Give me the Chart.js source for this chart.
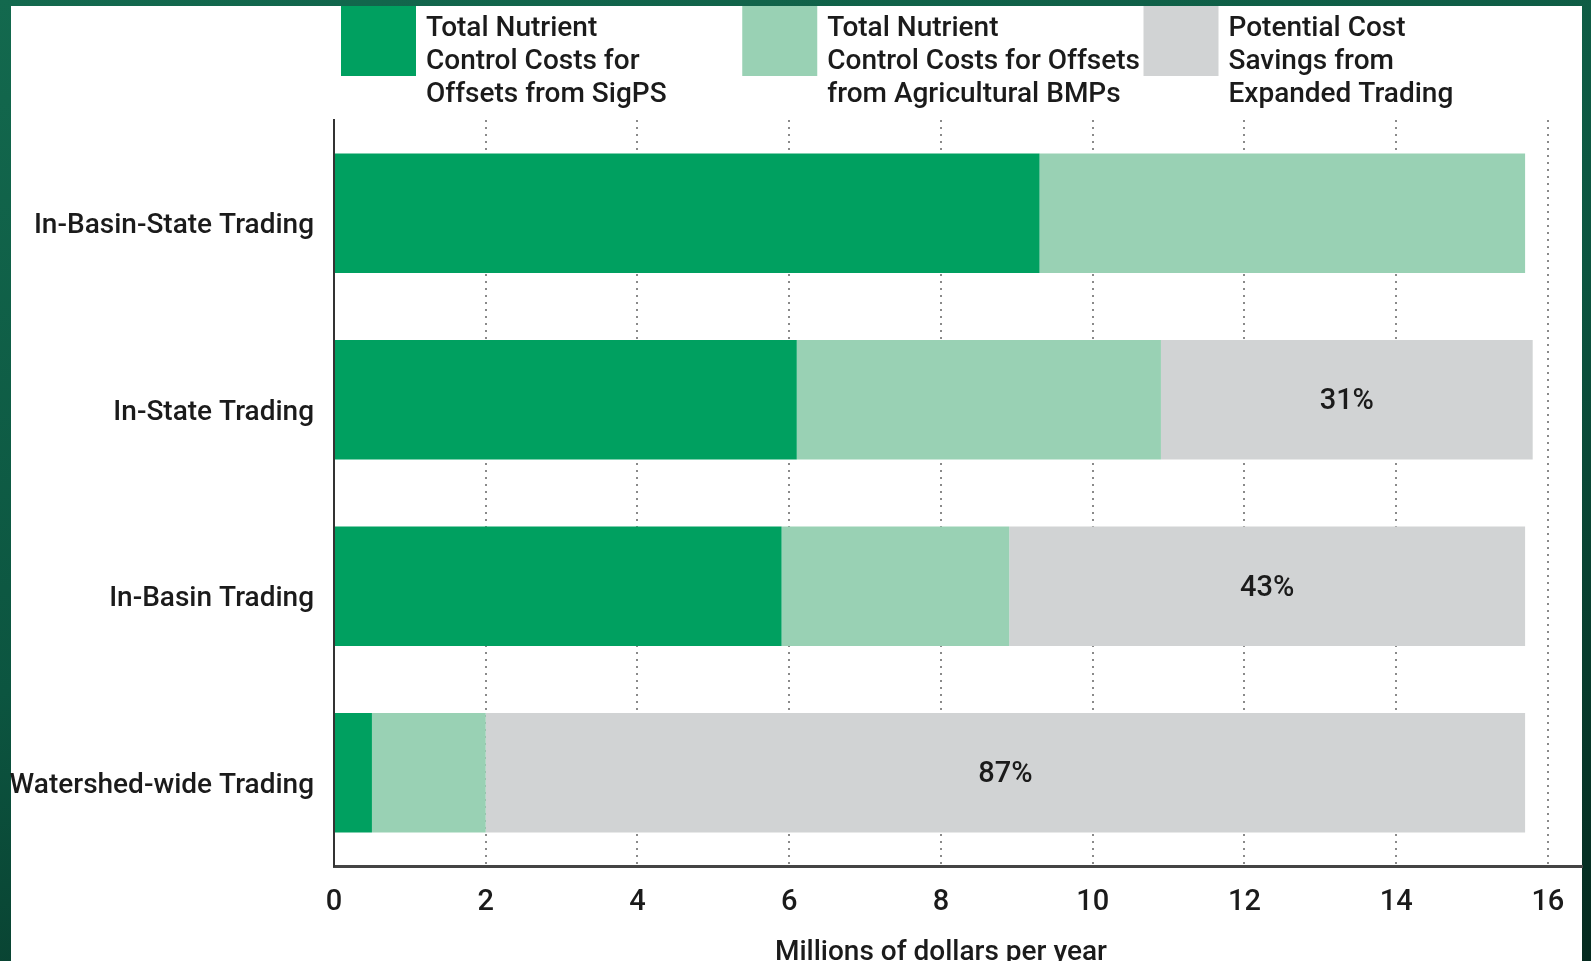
<!DOCTYPE html>
<html>
<head>
<meta charset="utf-8">
<script src="https://cdn.jsdelivr.net/npm/chart.js@4.4.1/dist/chart.umd.min.js"></script>
<style>
  html, body { margin: 0; padding: 0; width: 1591px; height: 961px; overflow: hidden; }
  body { position: relative; background: linear-gradient(165deg, #13694e 0%, #0c5540 50%, #052a1f 100%); }
  #panel { position: absolute; left: 11px; top: 6px; width: 1571px; height: 955px; background: #fff; }
  #chart { position: absolute; left: 0; top: 0; }
</style>
</head>
<body>
<div id="panel"></div>
<canvas id="chart" width="1591" height="990"></canvas>
<script>
var categories = ['In-Basin-State Trading', 'In-State Trading', 'In-Basin Trading', 'Watershed-wide Trading'];
var sigpsCosts = [9.3, 6.1, 5.9, 0.5];
var agBmpCosts = [6.4, 4.8, 3.0, 1.5];
var tradingSavings = [0, 4.9, 6.8, 13.7];
var savingsLabels = ['', '31%', '43%', '87%'];
var seriesNames = [
    ['Total Nutrient', 'Control Costs for', 'Offsets from SigPS'],
    ['Total Nutrient', 'Control Costs for Offsets', 'from Agricultural BMPs'],
    ['Potential Cost', 'Savings from', 'Expanded Trading']
];
var xTicks = [0, 2, 4, 6, 8, 10, 12, 14, 16];
var xTitle = 'Millions of dollars per year';

var FONT = 'Roboto, "Noto Sans", sans-serif';
var INK = '#1b1b1b';

// legend drawn by hand: three swatches with wrapped text
var legendPlugin = {
    id: 'stackLegend',
    afterDraw: function (chart) {
        var ctx = chart.ctx;
        ctx.save();
        ctx.font = '500 28px ' + FONT;
        ctx.textAlign = 'left';
        ctx.textBaseline = 'alphabetic';
        chart.data.datasets.forEach(function (ds, i) {
            var x = 341 + i * 401.25;
            ctx.fillStyle = ds.backgroundColor;
            ctx.fillRect(x, 6, 75, 70);
            ctx.fillStyle = INK;
            seriesNames[i].forEach(function (line, j) {
                ctx.fillText(line, x + 85, 36 + j * 33);
            });
        });
        ctx.restore();
    }
};

// axis title centred under the 0..16 tick range, not the whole axis
var xTitlePlugin = {
    id: 'xTitle',
    afterDraw: function (chart) {
        var ctx = chart.ctx;
        var xs = chart.scales.x;
        var mid = xs.getPixelForValue((xTicks[0] + xTicks[xTicks.length - 1]) / 2);
        ctx.save();
        ctx.font = '500 28px ' + FONT;
        ctx.fillStyle = INK;
        ctx.textAlign = 'center';
        ctx.textBaseline = 'middle';
        ctx.fillText(xTitle, mid, xs.bottom - 37);
        ctx.restore();
    }
};

// percent labels centred in the savings segments
var pctPlugin = {
    id: 'pctLabels',
    afterDatasetsDraw: function (chart) {
        var ctx = chart.ctx;
        var meta = chart.getDatasetMeta(2);
        ctx.save();
        ctx.font = '500 29px ' + FONT;
        ctx.fillStyle = INK;
        ctx.textAlign = 'center';
        ctx.textBaseline = 'middle';
        meta.data.forEach(function (bar, i) {
            if (!savingsLabels[i]) return;
            ctx.fillText(savingsLabels[i], (bar.x + bar.base) / 2, bar.y + 2);
        });
        ctx.restore();
    }
};

var ctx = document.getElementById('chart').getContext('2d');
new Chart(ctx, {
    type: 'bar',
    data: {
        labels: categories,
        datasets: [
            { label: seriesNames[0].join(' '), data: sigpsCosts, backgroundColor: '#00a060' },
            { label: seriesNames[1].join(' '), data: agBmpCosts, backgroundColor: '#99d1b4' },
            { label: seriesNames[2].join(' '), data: tradingSavings, backgroundColor: '#d1d3d4' }
        ]
    },
    options: {
        indexAxis: 'y',
        responsive: false,
        devicePixelRatio: 1,
        animation: false,
        categoryPercentage: 1,
        barPercentage: 0.64,
        borderWidth: 0,
        layout: { padding: { top: 120, right: 9, left: 0, bottom: 0 } },
        plugins: {
            legend: { display: false },
            tooltip: { enabled: false }
        },
        scales: {
            x: {
                stacked: true,
                min: 0,
                max: 16.45,
                afterBuildTicks: function (s) {
                    s.ticks = xTicks.map(function (v) { return { value: v }; });
                },
                afterFit: function (s) { s.height = 124; },
                grid: { color: '#8a8a8a', lineWidth: 2, drawTicks: false },
                border: { display: true, color: '#444', width: 3, dash: [2, 5] },
                ticks: { color: INK, font: { family: FONT, size: 29, weight: '500' }, padding: 19 }
            },
            y: {
                stacked: true,
                afterFit: function (s) { s.width = 334; },
                grid: { display: false, drawTicks: false },
                border: { display: true, color: '#333', width: 2 },
                ticks: { color: INK, font: { family: FONT, size: 28, weight: '500' }, padding: 20, labelOffset: 13 }
            }
        }
    },
    plugins: [pctPlugin, legendPlugin, xTitlePlugin]
});
</script>
</body>
</html>
